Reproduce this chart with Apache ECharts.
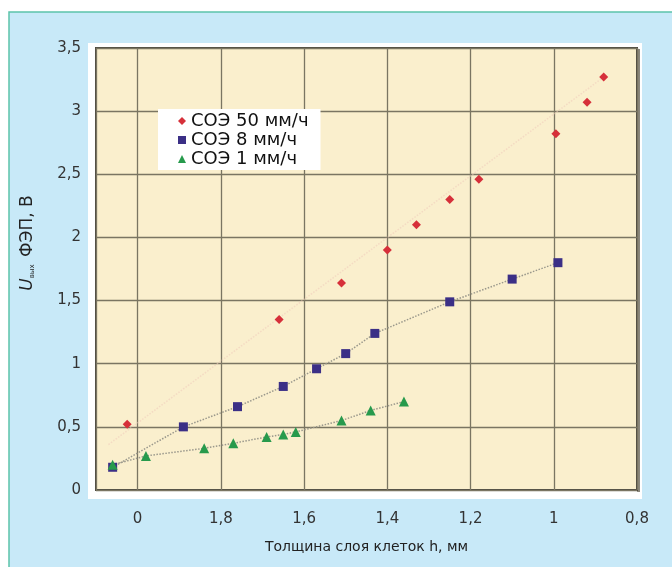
<!DOCTYPE html>
<html>
<head>
<meta charset="utf-8">
<script src="https://cdn.jsdelivr.net/npm/echarts@6/dist/echarts.min.js"></script>
<style>html,body{margin:0;padding:0;background:#fff}#c{width:672px;height:567px}</style>
</head>
<body>
<div id="c"></div>
<script>
// ---- Data ----
const seriesNames = ['СОЭ 50 мм/ч', 'СОЭ 8 мм/ч', 'СОЭ 1 мм/ч'];
const esr50 = [[2.025,0.52],[1.66,1.35],[1.51,1.64],[1.40,1.90],[1.33,2.10],[1.25,2.30],[1.18,2.46],[0.995,2.82],[0.92,3.07],[0.88,3.27]];
const esr8  = [[2.06,0.18],[1.89,0.50],[1.76,0.66],[1.65,0.82],[1.57,0.96],[1.50,1.08],[1.43,1.24],[1.25,1.49],[1.10,1.67],[0.99,1.80]];
const esr1  = [[2.06,0.20],[1.98,0.27],[1.84,0.33],[1.77,0.37],[1.69,0.42],[1.65,0.44],[1.62,0.46],[1.51,0.55],[1.44,0.63],[1.36,0.70]];
const trend50 = [[2.07,0.36],[0.88,3.27]];
const xTickValues = [0.8, 1.0, 1.2, 1.4, 1.6, 1.8, 2.0];
const xTickLabels = ['0,8', '1', '1,2', '1,4', '1,6', '1,8', '0'];
const yTickValues = [0, 0.5, 1, 1.5, 2, 2.5, 3, 3.5];
const yTickLabels = ['0', '0,5', '1', '1,5', '2', '2,5', '3', '3,5'];
const xAxisTitle = 'Толщина слоя клеток h, мм';

const FONT = '"DejaVu Sans", sans-serif';
const chart = echarts.init(document.getElementById('c'), null, {renderer: 'canvas'});

function lookup(vals, labels, v) {
  for (let i = 0; i < vals.length; i++) if (Math.abs(vals[i] - v) < 1e-6) return labels[i];
  return '';
}

const option = {
  backgroundColor: '#ffffff',
  animation: false,
  graphic: [
    {type: 'rect', z: -10, shape: {x: 9, y: 12, width: 700, height: 600},
     style: {fill: '#c8e9f8', stroke: '#5cc3aa', lineWidth: 1.5}},
    {type: 'rect', z: -9, shape: {x: 88, y: 43, width: 554, height: 456},
     style: {fill: '#ffffff'}},
    {type: 'rect', z: -8, shape: {x: 637, y: 49, width: 3, height: 443},
     style: {fill: '#8a877c'}}
  ],
  grid: {left: 96, top: 48, width: 541, height: 442, show: true,
         backgroundColor: '#faefcd', borderColor: '#4d4a40', borderWidth: 2},
  legend: {
    data: seriesNames, orient: 'vertical', left: 158, top: 109,
    backgroundColor: '#ffffff', padding: [3, 12, 2, 20], itemGap: 1,
    itemWidth: 8, itemHeight: 8,
    textStyle: {fontFamily: FONT, fontSize: 18, lineHeight: 18, color: '#111', padding: [0, 0, 0, 0]}
  },
  xAxis: {
    type: 'value', inverse: true, min: 0.8, max: 2.1, interval: 0.2,
    name: xAxisTitle, nameLocation: 'middle', nameGap: 50,
    nameTextStyle: {fontFamily: FONT, fontSize: 14, color: '#222'},
    axisLine: {show: false}, axisTick: {show: false},
    axisLabel: {margin: 22, fontFamily: FONT, fontSize: 15, color: '#333',
      formatter: v => lookup(xTickValues, xTickLabels, v)},
    splitLine: {show: true, lineStyle: {color: '#7a7562', width: 1.3}}
  },
  yAxis: {
    type: 'value', min: 0, max: 3.5, interval: 0.5,
    name: '{u|U}{s|вых} ФЭП, В', nameLocation: 'middle', nameGap: 60, nameRotate: 90,
    nameTextStyle: {fontFamily: FONT, fontSize: 17, color: '#222', padding: [0, 0, 0, 52],
      rich: {u: {fontFamily: FONT, fontSize: 17, fontStyle: 'italic', color: '#222'},
             s: {fontFamily: FONT, fontSize: 7, color: '#222', verticalAlign: 'bottom', padding: [8, 2, 0, 0]}}},
    axisLine: {show: false}, axisTick: {show: false},
    axisLabel: {margin: 15, fontFamily: FONT, fontSize: 15, color: '#333', padding: [7, 0, 0, 0],
      formatter: v => lookup(yTickValues, yTickLabels, v)},
    splitLine: {show: true, lineStyle: {color: '#7a7562', width: 1.3}}
  },
  series: [
    {name: 'trend50', type: 'line', data: trend50, symbol: 'none', silent: true, z: 1,
     lineStyle: {color: '#f0cdbd', width: 1.5, type: 'dotted', opacity: 0.6}},
    {name: 'line8', type: 'line', data: esr8, symbol: 'none', silent: true, z: 1,
     lineStyle: {color: '#9a988c', width: 1.5, type: 'dotted'}},
    {name: 'line1', type: 'line', data: esr1, symbol: 'none', silent: true, z: 1,
     lineStyle: {color: '#9a988c', width: 1.5, type: 'dotted'}},
    {name: seriesNames[0], type: 'scatter', data: esr50, symbol: 'diamond', symbolSize: 9, z: 3,
     itemStyle: {color: '#d6303a', opacity: 1}},
    {name: seriesNames[1], type: 'scatter', data: esr8, symbol: 'rect', symbolSize: 9, z: 3,
     itemStyle: {color: '#3b2f86', opacity: 1}},
    {name: seriesNames[2], type: 'scatter', data: esr1, symbol: 'triangle', symbolSize: 10, z: 3,
     itemStyle: {color: '#279a4c', opacity: 1}}
  ]
};
chart.setOption(option);
</script>
</body>
</html>
